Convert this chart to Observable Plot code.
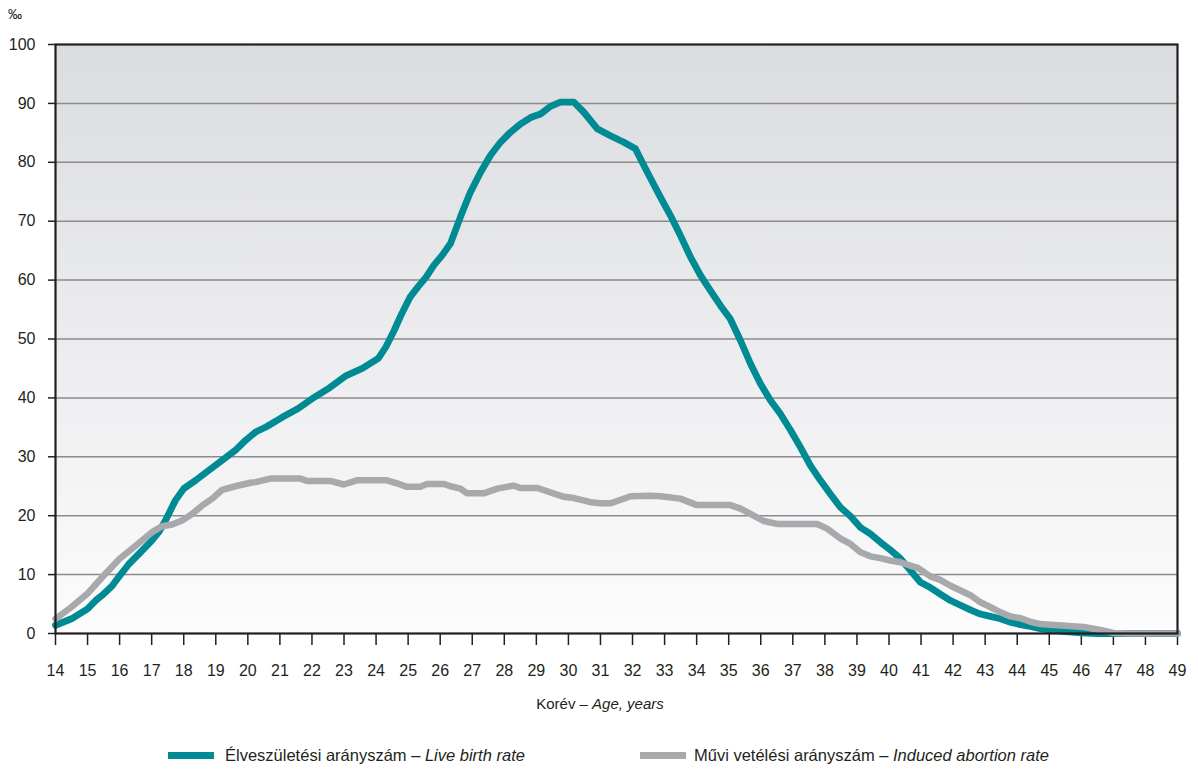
<!DOCTYPE html>
<html>
<head>
<meta charset="utf-8">
<script src="https://cdn.jsdelivr.net/npm/d3@7"></script>
<script src="https://cdn.jsdelivr.net/npm/@observablehq/plot@0.6"></script>
<style>
  body { margin: 0; background: #fff; }
  #wrap { position: relative; width: 1198px; height: 771px; font-family: "Liberation Sans", Arial, sans-serif; color: #231f20; }
  #chart { position: absolute; left: 0; top: 0; }
  #unit { position: absolute; left: 8px; top: 6px; font-size: 14px; }
  #xlabel { position: absolute; left: 0; width: 1200px; top: 695px; text-align: center; font-size: 15px; }
  .leg { position: absolute; top: 746px; font-size: 16.5px; white-space: nowrap; }
  .sw { position: absolute; top: 752px; width: 46px; height: 7px; }
</style>
</head>
<body>
<div id="wrap">
  <div id="chart"></div>
  <div id="unit">‰</div>
  <div id="xlabel">Korév – <i>Age, years</i></div>
  <div class="sw" id="sw0" style="left:168px"></div>
  <div class="leg" id="lg0" style="left:225px"></div>
  <div class="sw" id="sw1" style="left:640px"></div>
  <div class="leg" id="lg1" style="left:694px"></div>
</div>
<script>
// Age-specific rates (per mille)
const liveBirth = [[14.0,1.4],[14.5,2.5],[15.0,4.2],[15.25,5.6],[15.5,6.7],[15.77,8.1],[16.0,9.8],[16.29,11.8],[16.6,13.5],[17.01,15.8],[17.22,17.2],[17.43,19.2],[17.74,22.6],[18.0,24.6],[18.37,26.0],[18.78,27.7],[19.2,29.4],[19.61,31.1],[19.93,32.8],[20.24,34.2],[20.58,35.1],[21.07,36.7],[21.57,38.2],[22.07,40.1],[22.57,41.8],[23.07,43.8],[23.57,45.0],[24.07,46.7],[24.3,48.6],[24.56,51.4],[24.8,54.3],[25.06,57.1],[25.3,58.8],[25.56,60.5],[25.8,62.5],[26.06,64.2],[26.32,66.2],[26.63,70.7],[26.94,74.9],[27.26,78.3],[27.57,81.2],[27.88,83.4],[28.19,85.1],[28.5,86.5],[28.82,87.6],[29.13,88.2],[29.44,89.5],[29.75,90.2],[30.17,90.2],[30.48,88.5],[30.9,85.7],[31.31,84.5],[31.73,83.4],[32.09,82.3],[32.35,79.5],[32.56,77.3],[32.87,74.1],[33.18,71.0],[33.49,67.6],[33.81,63.9],[34.12,60.8],[34.43,58.2],[34.74,55.7],[35.05,53.4],[35.37,49.7],[35.68,45.8],[35.99,42.4],[36.3,39.6],[36.61,37.3],[36.93,34.5],[37.24,31.6],[37.55,28.5],[37.86,26.0],[38.17,23.7],[38.49,21.4],[38.8,19.9],[39.11,18.0],[39.42,16.9],[39.73,15.5],[40.04,14.2],[40.36,12.7],[40.67,10.7],[40.98,8.7],[41.29,7.8],[41.6,6.7],[41.92,5.6],[42.23,4.8],[42.54,4.0],[42.85,3.3],[43.16,2.9],[43.48,2.5],[43.79,1.9],[44.1,1.5],[44.41,1.2],[44.72,0.8],[45.04,0.6],[45.5,0.3],[46.0,0.1],[46.5,0.0],[47.0,0.0],[48.0,0.0],[49.0,0.0]];

const inducedAbortion = [[14.0,2.5],[14.5,4.5],[15.0,6.8],[15.5,9.8],[16.0,12.7],[16.5,14.9],[17.01,17.2],[17.33,18.2],[17.64,18.5],[17.95,19.2],[18.26,20.3],[18.57,21.7],[18.89,22.9],[19.2,24.4],[19.61,25.0],[20.08,25.6],[20.24,25.7],[20.7,26.3],[21.64,26.3],[21.85,25.9],[22.57,25.9],[22.99,25.3],[23.4,26.0],[24.34,26.0],[24.65,25.5],[24.96,24.9],[25.38,24.9],[25.59,25.4],[26.11,25.4],[26.32,25.0],[26.63,24.6],[26.84,23.8],[27.36,23.8],[27.78,24.6],[28.29,25.1],[28.5,24.7],[29.03,24.7],[29.86,23.2],[30.17,23.0],[30.69,22.3],[31.0,22.1],[31.31,22.1],[31.52,22.5],[31.94,23.3],[32.56,23.4],[32.87,23.3],[33.49,22.9],[34.01,21.8],[35.05,21.8],[35.37,21.2],[35.68,20.3],[36.09,19.1],[36.51,18.6],[37.76,18.6],[38.07,17.8],[38.49,16.1],[38.8,15.2],[39.11,13.8],[39.42,13.1],[39.73,12.8],[40.04,12.4],[40.36,12.1],[40.67,11.5],[40.88,11.2],[41.29,9.7],[41.6,9.1],[41.92,8.1],[42.23,7.3],[42.54,6.5],[42.85,5.3],[43.16,4.5],[43.48,3.6],[43.79,2.9],[44.1,2.6],[44.41,2.0],[44.72,1.6],[45.04,1.5],[45.5,1.3],[46.07,1.1],[46.6,0.6],[47.0,0.1],[47.5,0.0],[48.0,0.0],[49.0,0.0]];

const xTicks = [14,15,16,17,18,19,20,21,22,23,24,25,26,27,28,29,30,31,32,33,34,35,36,37,38,39,40,41,42,43,44,45,46,47,48,49];
const yTicks = [0,10,20,30,40,50,60,70,80,90,100];
const seriesHu = ["Élveszületési arányszám", "Művi vetélési arányszám"];
const seriesEn = ["Live birth rate", "Induced abortion rate"];
const seriesColors = ["#008b94", "#a7a9ac"];

const toRows = arr => arr.map(([age, rate]) => ({age, rate}));

const fontFamily = '"Liberation Sans", Arial, sans-serif';

const svg = Plot.plot({
  width: 1198,
  height: 690,
  marginTop: 44,
  marginLeft: 55,
  marginRight: 21,
  marginBottom: 57,
  x: {domain: [14, 49]},
  y: {domain: [0, 100]},
  style: {fontFamily, fontSize: "16px", color: "#231f20", background: "transparent", overflow: "visible"},
  marks: [
    Plot.frame({fill: "url(#bg)", stroke: null}),
    Plot.gridY(yTicks.filter(d => d > 0 && d < 100), {stroke: "#8b8b8d", strokeOpacity: 1, strokeWidth: 1.5}),
    Plot.axisX(xTicks, {tickSize: 12, tickPadding: 19, stroke: "#231f20", strokeWidth: 1.5, label: null, tickFormat: d => String(d)}),
    Plot.axisY(yTicks, {tickSize: 7, tickPadding: 13, stroke: "#231f20", strokeWidth: 1.5, label: null, tickFormat: d => String(d)}),
    Plot.line(toRows(liveBirth), {x: "age", y: "rate", stroke: seriesColors[0], strokeWidth: 6.8, strokeLinejoin: "round", strokeLinecap: "round"}),
    Plot.line(toRows(inducedAbortion), {x: "age", y: "rate", stroke: seriesColors[1], strokeWidth: 6.5, strokeLinejoin: "round", strokeLinecap: "round"}),
    Plot.frame({stroke: "#231f20", strokeWidth: 2.2})
  ]
});

d3.select(svg).insert("defs", ":first-child").html(
  '<linearGradient id="bg" x1="0" y1="0" x2="0" y2="1">' +
  '<stop offset="0" stop-color="#dbdce0"/><stop offset="1" stop-color="#fcfcfc"/></linearGradient>'
);

document.getElementById("chart").appendChild(svg);

for (let i = 0; i < 2; i++) {
  document.getElementById("sw" + i).style.background = seriesColors[i];
  const lg = document.getElementById("lg" + i);
  lg.append(seriesHu[i] + " – ");
  const it = document.createElement("i");
  it.textContent = seriesEn[i];
  lg.append(it);
}
</script>
</body>
</html>
